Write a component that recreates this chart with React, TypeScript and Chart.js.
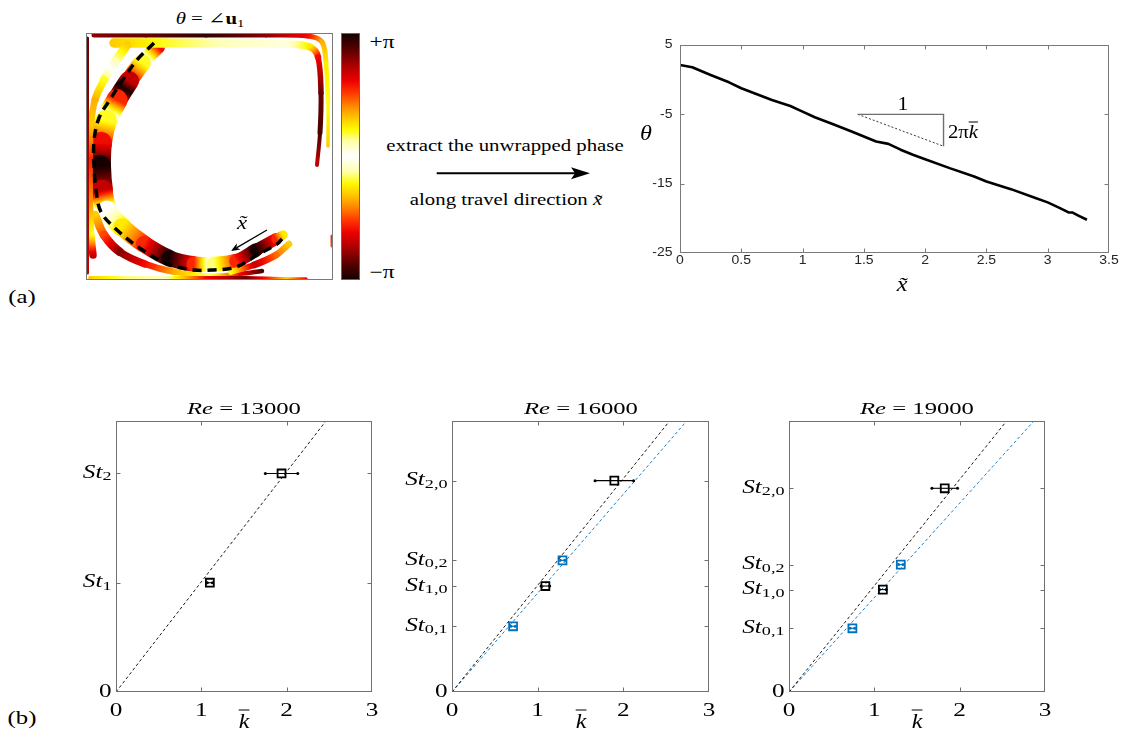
import React, { useEffect, useRef } from 'react';
import { Chart, registerables } from 'chart.js';

Chart.register(...registerables);

type Pt = [number, number];

/* ---------- panel (a) left: phase of u1 along the vortex bands ----------
   coordinates in cells of the 247-cell square box (y counted downward),
   phases in units of pi (unwrapped) */
const mainBand: Pt[] = [[72,14],[56,30],[43,48],[31,67],[20,88],[15,110],[14,133],[16,157],[21,177],[36,194],[58,211],[83,225],[108,231],[128,231],[150,228],[170,217],[190,206],[197,202]];
const mainBandPhase = [8.6,7.8,7.3,6.55,5.8,5.4,5.0,4.7,4.0,3.75,3.45,3.0,2.55,1.85,1.45,1.0,0.55,0.25];
const mainBandWidth = [12,16,19,21,22,22,22,22,20,18,17,16,15,15,14,13,11,8];

const leftBand: Pt[] = [[41,12],[29,29],[18,47],[9,67],[5,92],[4,127],[4,167],[5,202],[7,222]];
const leftBandPhase = [0.3,0.1,-0.2,-0.35,-0.3,-0.55,-0.4,-0.2,-0.7];
const leftBandWidth = [9,9,8,7,6,6,6,7,8];

const edgeBand: Pt[] = [[1.5,5],[1.5,120],[1.5,240]];
const edgeBandPhase = [0.85,0.75,0.7];
const edgeBandWidth = [3,3,3];

const lowerArc: Pt[] = [[9,182],[18,202],[34,219],[59,231],[89,239],[124,243],[154,241],[176,238]];
const lowerArcPhase = [0.3,0.5,0.8,0.6,0.35,0.15,0.6,0.9];
const lowerArcWidth = [8,9,8,7,6,5,5,4];

const secondClaw: Pt[] = [[203,211],[190,222],[168,232],[145,239]];
const secondClawPhase = [0.3,0.45,0.7,0.2];
const secondClawWidth = [6,7,7,5];

const bottomEdge: Pt[] = [[4,245],[40,245],[80,245],[120,245],[160,245],[200,246],[220,246]];
const bottomEdgePhase = [0.3,0.15,0.1,0.6,0.85,0.3,0.6];
const bottomEdgeWidth = [4,4,4,4,4,4,3];

const topOuter: Pt[] = [[8,2],[60,2],[120,2],[180,2],[222,3],[236,9],[240,30],[242,70],[242,113]];
const topOuterPhase = [0.8,0.85,0.95,0.8,0.6,0.35,0.25,0.2,0.3];
const topOuterWidth = [5,5,5,5,5,5,5,4,3];

const topInner: Pt[] = [[28,10],[80,10],[140,10],[200,11],[224,14],[232,24],[235,60],[234,100],[231,132]];
const topInnerPhase = [0.3,0.2,0.1,0.05,0.25,0.6,0.85,0.9,0.7];
const topInnerWidth = [10,9,9,8,7,6,5,5,3];

const wallMark: Pt[] = [[246,203],[246,213]];
const wallMarkPhase = [0.55,0.5];
const wallMarkWidth = [3,3];

const travelPath: Pt[] = [[68,10],[51,27],[38,45],[25,65],[13,85],[8,108],[8,132],[10,157],[15,179],[31,197],[55,216],[81,231],[108,237],[126,237],[150,234],[171,222],[191,211],[196,206]];
const travelArrow: Pt[] = [[181,197],[145,218]];

/* ---------- panel (a) right: unwrapped phase ---------- */
const xTilde = [0,0.1,0.25,0.4,0.5,0.75,0.9,1.0,1.1,1.25,1.4,1.5,1.6,1.7,1.8,1.9,2.0,2.2,2.4,2.5,2.7,2.9,3.0,3.1,3.17,3.2,3.25,3.32];
const thetaUnwrapped = [2.12,1.78,0.68,-0.38,-1.24,-2.92,-3.79,-4.6,-5.42,-6.43,-7.48,-8.2,-8.92,-9.26,-10.1,-10.84,-11.47,-12.76,-13.96,-14.68,-15.79,-17.08,-17.7,-18.52,-19.15,-19.15,-19.6,-20.2];
const slopeLegX = [1.45, 2.15, 2.15];
const slopeLegY = [-5, -5, -9.6];
const slopeHypX = [1.45, 2.15];
const slopeHypY = [-5, -9.6];

/* ---------- panel (b) ---------- */
const re13Ticks = [0, 1, 2];
const re13TickLabels = ['0', 'St_1', 'St_2'];
const re13Top = 2.48;
const re13K = [1.10, 1.94];
const re13St = [1, 2];
const re13KErr = [0.03, 0.19];
const re13Fit: Pt[] = [[0, 0], [2.46, 2.48]];

const re16Ticks = [0, 0.62, 1, 1.242, 1.994];
const re16TickLabels = ['0', 'St_0,1', 'St_1,0', 'St_0,2', 'St_2,0'];
const re16Top = 2.557;
const re16K = [1.09, 1.895];
const re16St = [1, 1.994];
const re16KErr = [0.05, 0.225];
const re16Fit: Pt[] = [[0, 0], [2.54, 2.557]];
const re16BlueK = [0.713, 1.29];
const re16BlueSt = [0.62, 1.242];
const re16BlueKErr = [0.025, 0.025];
const re16BlueFit: Pt[] = [[0, 0], [2.74, 2.557]];

const re19Ticks = [0, 0.622, 1, 1.244, 1.989];
const re19TickLabels = ['0', 'St_0,1', 'St_1,0', 'St_0,2', 'St_2,0'];
const re19Top = 2.646;
const re19K = [1.10, 1.825];
const re19St = [1, 1.989];
const re19KErr = [0.04, 0.15];
const re19Fit: Pt[] = [[0, 0], [2.55, 2.646]];
const re19BlueK = [0.743, 1.31];
const re19BlueSt = [0.622, 1.244];
const re19BlueKErr = [0.025, 0.025];
const re19BlueFit: Pt[] = [[0, 0], [2.87, 2.646]];

const reTitles = ['13000', '16000', '19000'];

/* ---------- colour map (symmetric "hot": white at 0, black at ±pi) ---------- */
const HOT_STOPS: number[][] = [
  [0, 255, 255, 255], [0.12, 255, 255, 175], [0.22, 255, 250, 0], [0.32, 255, 195, 0],
  [0.42, 255, 130, 0], [0.52, 255, 55, 0], [0.62, 236, 0, 0], [0.75, 168, 0, 0],
  [0.88, 85, 0, 0], [1, 22, 0, 0],
];
function hotU(u: number): string {
  for (let i = 1; i < HOT_STOPS.length; i++) {
    if (u <= HOT_STOPS[i][0]) {
      const a = HOT_STOPS[i - 1], b = HOT_STOPS[i];
      const t = (u - a[0]) / (b[0] - a[0]);
      const c = (j: number) => Math.round(a[j] + (b[j] - a[j]) * t);
      return `rgb(${c(1)},${c(2)},${c(3)})`;
    }
  }
  return 'rgb(22,0,0)';
}
function hotColor(cPi: number): string {
  const m = ((cPi % 2) + 2) % 2;
  return hotU(m <= 1 ? m : 2 - m);
}
function colorbarCss(): string {
  const stops: [number, string][] = [];
  HOT_STOPS.forEach((s) => {
    const col = `rgb(${s[1]},${s[2]},${s[3]})`;
    stops.push([(1 - s[0]) / 2, col]);
    stops.push([(1 + s[0]) / 2, col]);
  });
  stops.sort((a, b) => a[0] - b[0]);
  return `linear-gradient(to bottom, ${stops.map(([p, c]) => `${c} ${(p * 100).toFixed(2)}%`).join(', ')})`;
}

function segGradient(s: any, phase: number[]) {
  const g = s.chart.ctx.createLinearGradient(s.p0.x, s.p0.y, s.p1.x, s.p1.y);
  const a = phase[s.p0DataIndex], b = phase[s.p1DataIndex];
  const n = 12;
  for (let k = 0; k <= n; k++) g.addColorStop(k / n, hotColor(a + ((b - a) * k) / n));
  return g;
}

function band(pts: Pt[], phase: number[], width: number[], order: number) {
  return {
    data: pts.map(([x, y]) => ({ x, y })),
    borderColor: hotColor(phase[0]),
    borderWidth: width[0],
    borderCapStyle: 'round',
    borderJoinStyle: 'round',
    tension: 0.35,
    pointRadius: 0,
    order,
    segment: {
      borderColor: (s: any) => segGradient(s, phase),
      borderWidth: (s: any) => (width[s.p0DataIndex] + width[s.p1DataIndex]) / 2,
    },
  };
}

/* ---------- axes box plugin (MATLAB-like frame, inward ticks, labels) ---------- */
function fmt(v: number): string {
  return String(Math.round(v * 100) / 100);
}
function drawTickLabel(ctx: any, text: string, x: number, y: number, align: string, cfg: any) {
  const size = cfg.size, fam = cfg.family, sx = cfg.stretch || 1;
  const parts = text.startsWith('St_')
    ? [{ t: 'St', it: true, sub: false }, { t: text.slice(3), it: false, sub: true }]
    : [{ t: text, it: false, sub: false }];
  const fontOf = (p: any) => `${p.it ? 'italic ' : ''}${p.sub ? size * 0.72 : size}px "${fam}"`;
  let w = 0;
  for (const p of parts) { ctx.font = fontOf(p); w += ctx.measureText(p.t).width; }
  ctx.save();
  ctx.translate(x, y);
  ctx.scale(sx, 1);
  let cx = align === 'right' ? -w : align === 'center' ? -w / 2 : 0;
  ctx.textAlign = 'left';
  ctx.textBaseline = 'middle';
  for (const p of parts) {
    ctx.font = fontOf(p);
    ctx.fillText(p.t, cx, p.sub ? size * 0.2 : 0);
    cx += ctx.measureText(p.t).width;
  }
  ctx.restore();
}
function makeBoxAxes(cfg: any) {
  return {
    id: 'boxAxes',
    afterDraw(chart: any) {
      const { ctx, chartArea: a } = chart;
      const xs = chart.scales.x, ys = chart.scales.y;
      const L = Math.round(a.left) + 0.5, R = Math.round(a.right) - 0.5;
      const T = Math.round(a.top) + 0.5, B = Math.round(a.bottom) - 0.5;
      ctx.save();
      ctx.setLineDash([]);
      ctx.strokeStyle = cfg.frame || '#777';
      ctx.lineWidth = 1;
      ctx.strokeRect(L, T, R - L, B - T);
      if (cfg.ticks) {
        const tl = cfg.tickLen ?? 4;
        ctx.beginPath();
        for (const t of xs.ticks) {
          const px = Math.round(xs.getPixelForValue(t.value)) + 0.5;
          if (px <= L + 1 || px >= R - 1) continue;
          ctx.moveTo(px, B); ctx.lineTo(px, B - tl);
          ctx.moveTo(px, T); ctx.lineTo(px, T + tl);
        }
        for (const t of ys.ticks) {
          const py = Math.round(ys.getPixelForValue(t.value)) + 0.5;
          if (py <= T + 1 || py >= B - 1) continue;
          ctx.moveTo(L, py); ctx.lineTo(L + tl, py);
          ctx.moveTo(R, py); ctx.lineTo(R - tl, py);
        }
        ctx.stroke();
      }
      if (cfg.labels) {
        ctx.fillStyle = cfg.color || '#000';
        for (const t of xs.ticks) {
          drawTickLabel(ctx, fmt(t.value), xs.getPixelForValue(t.value), B + cfg.xOffset, 'center', cfg);
        }
        for (const t of ys.ticks) {
          const lab = cfg.yTickLabels ? cfg.yTickLabels[cfg.yTickValues.indexOf(t.value)] : fmt(t.value);
          drawTickLabel(ctx, lab, L - cfg.yOffset, ys.getPixelForValue(t.value), 'right', cfg);
        }
      }
      ctx.restore();
    },
  };
}

const arrowPlugin = {
  id: 'travelArrow',
  afterDatasetsDraw(chart: any) {
    const { ctx } = chart;
    const xs = chart.scales.x, ys = chart.scales.y;
    const X0 = xs.getPixelForValue(travelArrow[0][0]), Y0 = ys.getPixelForValue(travelArrow[0][1]);
    const X1 = xs.getPixelForValue(travelArrow[1][0]), Y1 = ys.getPixelForValue(travelArrow[1][1]);
    const ang = Math.atan2(Y1 - Y0, X1 - X0);
    const hl = 9, hw = 3.6;
    ctx.save();
    ctx.strokeStyle = '#000';
    ctx.fillStyle = '#000';
    ctx.lineWidth = 1.3;
    ctx.beginPath();
    ctx.moveTo(X0, Y0);
    ctx.lineTo(X1 - Math.cos(ang) * hl * 0.7, Y1 - Math.sin(ang) * hl * 0.7);
    ctx.stroke();
    ctx.beginPath();
    ctx.moveTo(X1, Y1);
    ctx.lineTo(X1 - Math.cos(ang) * hl + Math.sin(ang) * hw, Y1 - Math.sin(ang) * hl - Math.cos(ang) * hw);
    ctx.lineTo(X1 - Math.cos(ang) * hl * 0.7, Y1 - Math.sin(ang) * hl * 0.7);
    ctx.lineTo(X1 - Math.cos(ang) * hl - Math.sin(ang) * hw, Y1 - Math.sin(ang) * hl + Math.cos(ang) * hw);
    ctx.closePath();
    ctx.fill();
    ctx.restore();
  },
};

const baseOptions = (padding: any) => ({
  responsive: false,
  maintainAspectRatio: false,
  animation: false,
  events: [],
  layout: { padding },
  plugins: { legend: { display: false }, tooltip: { enabled: false } },
});

function heatConfig(): any {
  return {
    type: 'line',
    data: {
      datasets: [
        { data: travelPath.map(([x, y]) => ({ x, y })), borderColor: '#000', borderWidth: 3.5, borderDash: [9, 6], tension: 0.35, pointRadius: 0, order: 0 },
        band(wallMark, wallMarkPhase, wallMarkWidth, 1),
        band(edgeBand, edgeBandPhase, edgeBandWidth, 2),
        band(leftBand, leftBandPhase, leftBandWidth, 3),
        band(bottomEdge, bottomEdgePhase, bottomEdgeWidth, 4),
        band(secondClaw, secondClawPhase, secondClawWidth, 5),
        band(topOuter, topOuterPhase, topOuterWidth, 6),
        band(topInner, topInnerPhase, topInnerWidth, 7),
        band(lowerArc, lowerArcPhase, lowerArcWidth, 8),
        band(mainBand, mainBandPhase, mainBandWidth, 9),
      ],
    },
    options: {
      ...baseOptions(0),
      scales: {
        x: { type: 'linear', min: 0, max: 247, display: false },
        y: { type: 'linear', min: 0, max: 247, reverse: true, display: false },
      },
    },
    plugins: [makeBoxAxes({ frame: '#7a7a7a', ticks: false, labels: false }), arrowPlugin],
  };
}

function phaseConfig(): any {
  return {
    type: 'line',
    data: {
      datasets: [
        { data: xTilde.map((x, i) => ({ x, y: thetaUnwrapped[i] })), borderColor: '#000', borderWidth: 2.6, borderJoinStyle: 'round', pointRadius: 0, order: 0 },
        { data: slopeLegX.map((x, i) => ({ x, y: slopeLegY[i] })), borderColor: '#6e6e6e', borderWidth: 1.4, pointRadius: 0, order: 1 },
        { data: slopeHypX.map((x, i) => ({ x, y: slopeHypY[i] })), borderColor: '#000', borderWidth: 0.8, borderDash: [2, 2], pointRadius: 0, order: 2 },
      ],
    },
    options: {
      ...baseOptions({ left: 50, top: 10, right: 11, bottom: 32 }),
      scales: {
        x: { type: 'linear', min: 0, max: 3.5, ticks: { stepSize: 0.5 }, display: false },
        y: { type: 'linear', min: -25, max: 5, ticks: { stepSize: 10 }, display: false },
      },
    },
    plugins: [makeBoxAxes({ frame: '#7a7a7a', ticks: true, tickLen: 4, labels: true, family: 'Liberation Sans', size: 12.5, stretch: 1.12, color: '#262626', xOffset: 8, yOffset: 8 })],
  };
}

function stConfig(p: any): any {
  const ds: any[] = [];
  const addSeries = (k: number[], st: number[], err: number[], fit: Pt[], color: string, o: number) => {
    ds.push({ data: k.map((v, i) => ({ x: v, y: st[i] })), showLine: false, pointStyle: 'rect', pointRadius: 5.6, pointBorderWidth: 1.8, pointBorderColor: color, pointBackgroundColor: 'rgba(255,255,255,0)', borderColor: color, order: o });
    k.forEach((v, i) => ds.push({ data: [{ x: v - err[i], y: st[i] }, { x: v + err[i], y: st[i] }], borderColor: color, borderWidth: 1.1, pointRadius: 1.5, pointBackgroundColor: color, pointBorderWidth: 0, order: o + 1 }));
    ds.push({ data: fit.map(([x, y]) => ({ x, y })), borderColor: color, borderWidth: 0.9, borderDash: [3, 2.5], pointRadius: 0, order: o + 2 });
  };
  addSeries(p.k, p.st, p.err, p.fit, '#000', 0);
  if (p.blueK) addSeries(p.blueK, p.blueSt, p.blueErr, p.blueFit, '#0072BD', 3);
  return {
    type: 'line',
    data: { datasets: ds },
    options: {
      ...baseOptions({ left: 56, top: 11, right: p.padRight, bottom: 43 }),
      scales: {
        x: { type: 'linear', min: 0, max: 3, ticks: { stepSize: 1 }, display: false },
        y: {
          type: 'linear', min: 0, max: p.top, display: false,
          afterBuildTicks: (scale: any) => { scale.ticks = p.ticks.map((v: number) => ({ value: v })); },
        },
      },
    },
    plugins: [makeBoxAxes({ frame: '#707070', ticks: true, tickLen: 4, labels: true, family: 'Liberation Serif', size: 18, stretch: 1.4, color: '#000', xOffset: 20, yOffset: 5, yTickLabels: p.labels, yTickValues: p.ticks })],
  };
}

const serif = '"Liberation Serif", "DejaVu Serif", serif';

function Txt(props: { x: number; y: number; size: number; sx?: number; children: any; align?: string }) {
  const { x, y, size, sx = 1.3, children, align = 'center' } = props;
  const tx = align === 'left' ? '0' : '-50%';
  return (
    <div
      style={{
        position: 'absolute', left: x, top: y, fontSize: size, lineHeight: 1, whiteSpace: 'nowrap',
        fontFamily: serif, color: '#000', transformOrigin: align === 'left' ? 'left center' : 'center center',
        transform: `translate(${tx},-50%) scaleX(${sx})`,
      }}
    >
      {children}
    </div>
  );
}
const Kbar = () => (
  <span style={{ display: 'inline-block', borderTop: '1.2px solid #000', lineHeight: 0.9, paddingTop: 1, fontStyle: 'italic' }}>k</span>
);
const Xtilde = () => <i>x&#x303;</i>;

export default function App() {
  const heatRef = useRef<HTMLCanvasElement>(null);
  const phaseRef = useRef<HTMLCanvasElement>(null);
  const b1Ref = useRef<HTMLCanvasElement>(null);
  const b2Ref = useRef<HTMLCanvasElement>(null);
  const b3Ref = useRef<HTMLCanvasElement>(null);

  useEffect(() => {
    const charts: any[] = [];
    charts.push(new Chart(heatRef.current as any, heatConfig()));
    charts.push(new Chart(phaseRef.current as any, phaseConfig()));
    charts.push(new Chart(b1Ref.current as any, stConfig({ ticks: re13Ticks, labels: re13TickLabels, top: re13Top, k: re13K, st: re13St, err: re13KErr, fit: re13Fit, padRight: 18 })));
    charts.push(new Chart(b2Ref.current as any, stConfig({ ticks: re16Ticks, labels: re16TickLabels, top: re16Top, k: re16K, st: re16St, err: re16KErr, fit: re16Fit, blueK: re16BlueK, blueSt: re16BlueSt, blueErr: re16BlueKErr, blueFit: re16BlueFit, padRight: 17 })));
    charts.push(new Chart(b3Ref.current as any, stConfig({ ticks: re19Ticks, labels: re19TickLabels, top: re19Top, k: re19K, st: re19St, err: re19KErr, fit: re19Fit, blueK: re19BlueK, blueSt: re19BlueSt, blueErr: re19BlueKErr, blueFit: re19BlueFit, padRight: 18 })));
    return () => charts.forEach((c) => c.destroy());
  }, []);

  const cv = (ref: any, left: number, top: number, w: number, h: number) => (
    <canvas ref={ref} width={w} height={h} style={{ position: 'absolute', left, top, width: w, height: h }} />
  );
  const bCenters = [244, 580.5, 917];

  return (
    <div style={{ position: 'absolute', left: 0, top: 0, width: 1125, height: 746, background: '#fff', overflow: 'hidden' }}>
      {cv(heatRef, 86, 33, 247, 247)}
      {cv(phaseRef, 630, 35, 490, 250)}
      {cv(b1Ref, 60, 410, 330, 325)}
      {cv(b2Ref, 396, 410, 330, 325)}
      {cv(b3Ref, 733, 410, 330, 325)}

      <div style={{ position: 'absolute', left: 341, top: 33, width: 19, height: 247, boxSizing: 'border-box', border: '1px solid #666', background: colorbarCss() }} />

      <svg style={{ position: 'absolute', left: 430, top: 164, overflow: 'visible' }} width={170} height={20}>
        <line x1={6.7} y1={9.3} x2={146} y2={9.3} stroke="#000" strokeWidth={2} />
        <polygon points="160,9.3 141,3.3 145,9.3 141,15.3" fill="#000" />
      </svg>

      <Txt x={210} y={19} size={16}><i>θ</i> = ∠<b>u</b><span style={{ fontSize: '0.7em', position: 'relative', top: '0.3em' }}>1</span></Txt>
      <Txt x={382} y={42} size={18}>+π</Txt>
      <Txt x={382} y={272} size={18}>−π</Txt>
      <Txt x={22} y={296} size={19}>(a)</Txt>
      <Txt x={22} y={717} size={19}>(b)</Txt>
      <Txt x={505} y={146} size={16}>extract the unwrapped phase</Txt>
      <Txt x={506} y={200} size={16}>along travel direction <Xtilde /></Txt>
      <Txt x={242} y={222} size={19} sx={1.2}><Xtilde /></Txt>
      <Txt x={646} y={133} size={22} sx={1.1}><i>θ</i></Txt>
      <Txt x={902} y={284} size={22} sx={1.1}><Xtilde /></Txt>
      <Txt x={903} y={104} size={18} sx={1.2}>1</Txt>
      <Txt x={963} y={131} size={18} sx={1.15}>2π<Kbar /></Txt>
      {reTitles.map((t, i) => (
        <Txt key={t} x={bCenters[i]} y={408} size={17} sx={1.45}><i>Re</i> = {t}</Txt>
      ))}
      {bCenters.map((c) => (
        <Txt key={c} x={c} y={720} size={20} sx={1.2}><Kbar /></Txt>
      ))}
    </div>
  );
}
